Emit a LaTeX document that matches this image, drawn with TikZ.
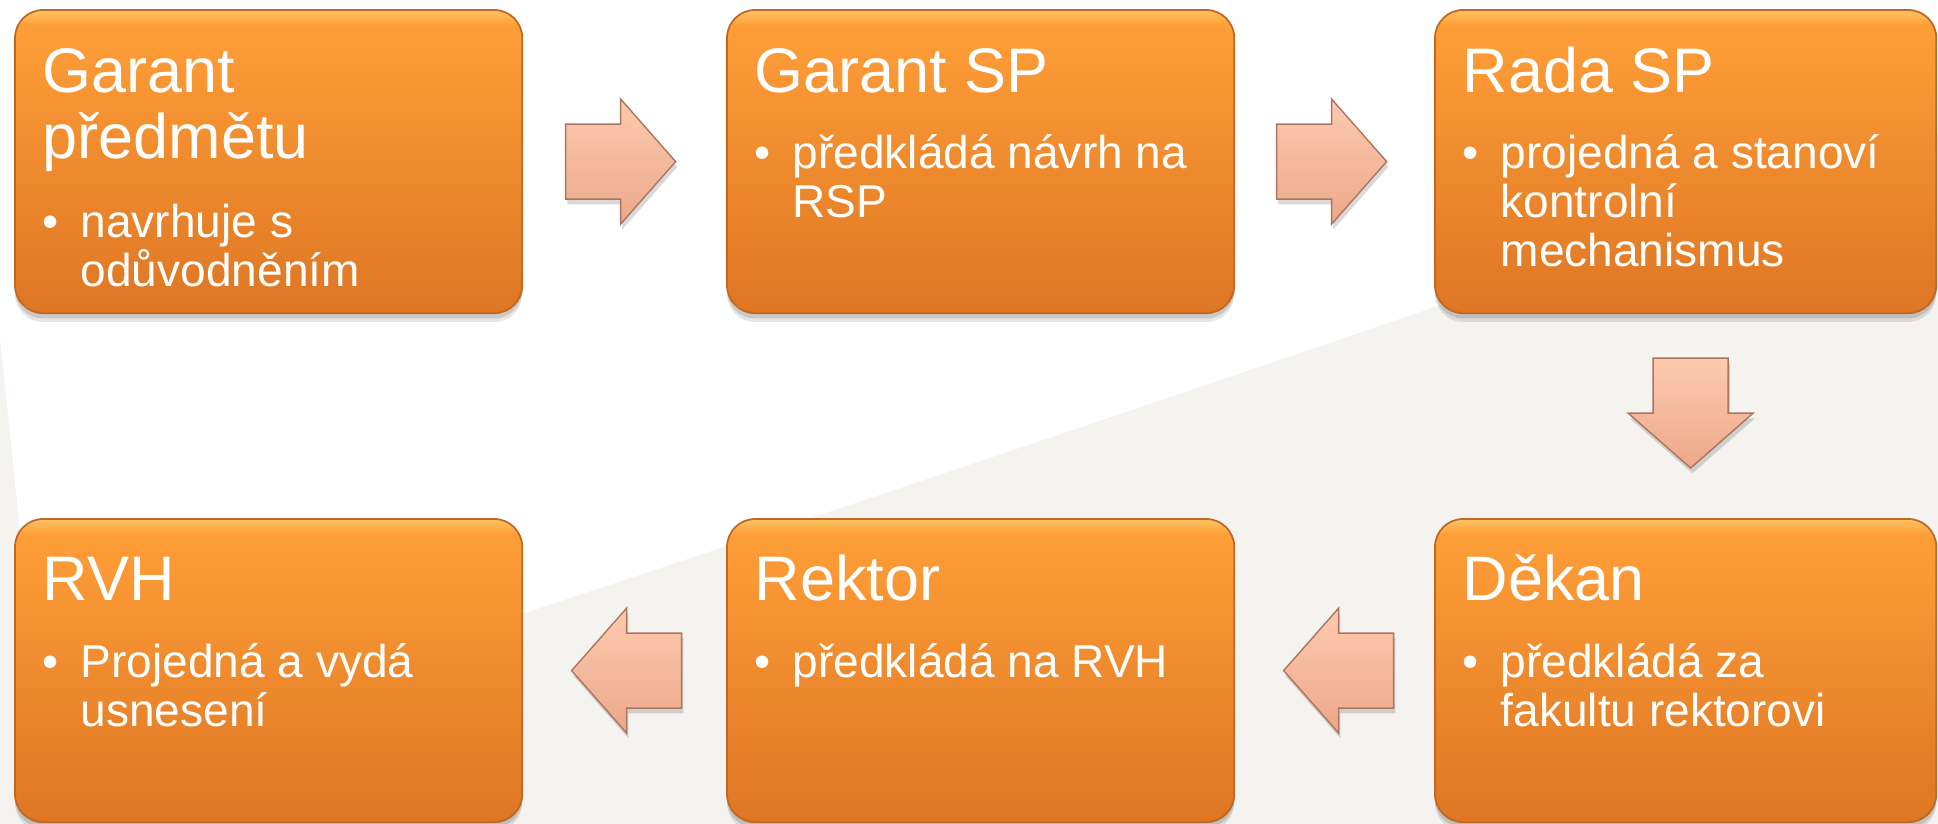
\documentclass[tikz,border=0pt]{standalone}
\usepackage{fontspec}
\setmainfont{Liberation Sans}
\usetikzlibrary{shadows,calc}
\definecolor{bggray}{RGB}{244,243,239}
\definecolor{otop}{RGB}{254,158,55}
\definecolor{obot}{RGB}{222,118,36}
\definecolor{ohl}{RGB}{255,196,100}
\definecolor{oedge}{RGB}{190,104,34}
\definecolor{atop}{RGB}{253,202,175}
\definecolor{abot}{RGB}{236,168,138}
\definecolor{aedge}{RGB}{170,118,96}
\pgfdeclareverticalshading{boxshade}{100bp}{color(0bp)=(obot); color(25bp)=(obot); color(72.5bp)=(otop); color(75bp)=(ohl); color(100bp)=(ohl)}
\begin{document}
\begin{tikzpicture}[x=0.01cm,y=-0.01cm,
  procbox/.style={rounded corners=0.28cm, draw=oedge, line width=0.5pt,
    shading=boxshade, minimum height=3.03cm,
    anchor=north west, outer sep=0pt, inner sep=0pt,
    drop shadow={shadow xshift=0pt, shadow yshift=-2.5pt, opacity=0.10, fill=black},
    drop shadow={shadow xshift=0pt, shadow yshift=-1.5pt, opacity=0.12, fill=black}},
  ttl/.style={text=white, font=\fontsize{17.9}{18}\selectfont, anchor=base west, inner sep=0pt},
  bul/.style={text=white, font=\fontsize{13.1}{14}\selectfont, anchor=base west, inner sep=0pt},
  arrowstyle/.style={draw=aedge, line width=0.4pt, top color=atop, bottom color=abot,
    drop shadow={shadow xshift=0.5pt, shadow yshift=-1.5pt, opacity=0.15, fill=black}},
  pics/blockarrow/.style={code={
    \draw[arrowstyle] (-55,-37.5) -- (0,-37.5) -- (0,-62.5) -- (55,0) -- (0,62.5) -- (0,37.5) -- (-55,37.5) -- cycle;}}
]
\useasboundingbox (0,0) rectangle (1938,824);
\clip (0,0) rectangle (1938,824);
\fill[bggray] (0,0) rectangle (1938,824);
\fill[white] (-10,-10) -- (1948,-10) -- (1948,130) .. controls (1200,390) and (600,590) .. (45,770)
  .. controls (30,640) and (10,420) .. (-10,250) -- cycle;

% boxes
\node[procbox, minimum width=5.07cm] (b1) at (15,10) {};
\node[procbox, minimum width=5.07cm] (b2) at (727,10) {};
\node[procbox, minimum width=5.01cm] (b3) at (1435,10) {};
\node[procbox, minimum width=5.07cm] (b4) at (15,519) {};
\node[procbox, minimum width=5.07cm] (b5) at (727,519) {};
\node[procbox, minimum width=5.01cm] (b6) at (1435,519) {};

% arrows
\pic (a1) at ($(b1.east)!0.5!(b2.west)+(-4,0)$) {blockarrow};
\pic (a2) at ($(b2.east)!0.5!(b3.west)+(-3,0)$) {blockarrow};
\pic[rotate=-90] (a3) at ($(b3.south)!0.5!(b6.north)+(5,-3)$) {blockarrow};
\pic[rotate=180] (a4) at ($(b5.west)!0.5!(b4.east)+(2,0)$) {blockarrow};
\pic[rotate=180] (a5) at ($(b6.west)!0.5!(b5.east)+(4,0)$) {blockarrow};

% texts box 1
\node[ttl] (b1t1) at ([shift={(27,82)}]b1.north west) {Garant};
\node[ttl] (b1t2) at ([shift={(27,148)}]b1.north west) {předmětu};
\node[bul] (b1d) at ([shift={(27,227)}]b1.north west) {•};
\node[bul] (b1l1) at ([shift={(65,227)}]b1.north west) {navrhuje s};
\node[bul] (b1l2) at ([shift={(65,276)}]b1.north west) {odůvodněním};
% box 2
\node[ttl] (b2t1) at ([shift={(27,82)}]b2.north west) {Garant SP};
\node[bul] (b2d) at ([shift={(27,158)}]b2.north west) {•};
\node[bul] (b2l1) at ([shift={(65,158)}]b2.north west) {předkládá návrh na};
\node[bul] (b2l2) at ([shift={(65,207)}]b2.north west) {RSP};
% box 3
\node[ttl] (b3t1) at ([shift={(27,82)}]b3.north west) {Rada SP};
\node[bul] (b3d) at ([shift={(27,158)}]b3.north west) {•};
\node[bul] (b3l1) at ([shift={(65,158)}]b3.north west) {projedná a stanoví};
\node[bul] (b3l2) at ([shift={(65,207)}]b3.north west) {kontrolní};
\node[bul] (b3l3) at ([shift={(65,256)}]b3.north west) {mechanismus};
% box 4
\node[ttl] (b4t1) at ([shift={(27,81)}]b4.north west) {RVH};
\node[bul] (b4d) at ([shift={(27,158)}]b4.north west) {•};
\node[bul] (b4l1) at ([shift={(65,158)}]b4.north west) {Projedná a vydá};
\node[bul] (b4l2) at ([shift={(65,207)}]b4.north west) {usnesení};
% box 5
\node[ttl] (b5t1) at ([shift={(27,81)}]b5.north west) {Rektor};
\node[bul] (b5d) at ([shift={(27,158)}]b5.north west) {•};
\node[bul] (b5l1) at ([shift={(65,158)}]b5.north west) {předkládá na RVH};
% box 6
\node[ttl] (b6t1) at ([shift={(27,81)}]b6.north west) {Děkan};
\node[bul] (b6d) at ([shift={(27,158)}]b6.north west) {•};
\node[bul] (b6l1) at ([shift={(65,158)}]b6.north west) {předkládá za};
\node[bul] (b6l2) at ([shift={(65,207)}]b6.north west) {fakultu rektorovi};
\end{tikzpicture}
\end{document}
